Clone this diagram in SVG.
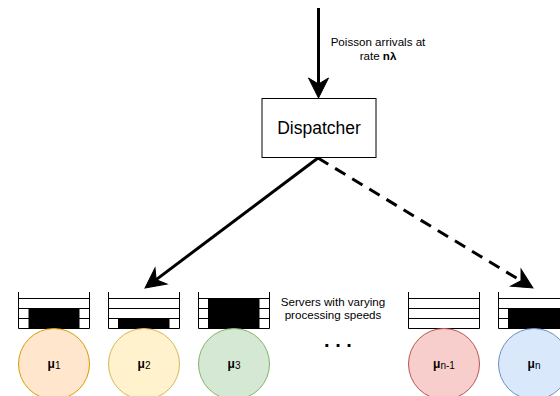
<svg xmlns="http://www.w3.org/2000/svg" width="560" height="396" viewBox="0 0 560 396">
<style>
text{font-family:"Liberation Sans",Arial,Helvetica,sans-serif;fill:#000}
.q{stroke:#000;stroke-width:1;fill:none}
.blk{fill:#000;stroke:#000;stroke-width:1}
.lbl{font-size:11.6px}
.mu{font-size:12px;font-weight:bold}
.sub{font-size:10px;font-weight:normal}
.conn{stroke:#000;stroke-width:3;fill:none}
</style>
<defs>
<marker id="arr" markerUnits="userSpaceOnUse" orient="auto" refX="0" refY="0" markerWidth="40" markerHeight="40" overflow="visible">
<path d="M14,0 L-6,-10 L0,0 L-6,10 Z" fill="#000" stroke="#000" stroke-width="1" stroke-linejoin="miter"/>
</marker>
</defs>
<rect width="560" height="396" fill="#fff"/>
<g id="connectors">
<line class="conn" x1="318.5" y1="8" x2="318.5" y2="84" marker-end="url(#arr)"/>
<line class="conn" x1="318" y1="158" x2="156.2" y2="279.6" marker-end="url(#arr)"/>
<line class="conn" x1="318" y1="158" x2="521" y2="280.8" stroke-dasharray="12 8" marker-end="url(#arr)"/>
</g>
<g id="arrival-label">
<text class="lbl" x="378" y="46" text-anchor="middle">Poisson arrivals at</text>
<text class="lbl" x="378" y="60" text-anchor="middle">rate <tspan font-weight="bold">nλ</tspan></text>
</g>
<g id="dispatcher">
<rect x="262" y="98.5" width="114" height="59" fill="#fff" stroke="#000" stroke-width="1"/>
<text x="319" y="134" font-size="17.5" text-anchor="middle">Dispatcher</text>
</g>
<g id="queue1">
<rect class="blk" x="29" y="308.5" width="50" height="20"/>
<path class="q" d="M18.5,292V328.5M89.5,292V328.5M18.5,298.5H89.5M18.5,308.5H89.5M18.5,318.5H89.5M18.5,328.5H89.5"/>
</g>
<g id="server1">
<circle cx="54" cy="364" r="35.5" fill="#ffe6cc" stroke="#d79b00"/>
<text class="mu" x="54" y="368" text-anchor="middle">μ<tspan class="sub" dy="1">1</tspan></text>
</g>
<g id="queue2">
<rect class="blk" x="118.5" y="318.5" width="50.5" height="10"/>
<path class="q" d="M108.5,292V328.5M179.5,292V328.5M108.5,298.5H179.5M108.5,308.5H179.5M108.5,318.5H179.5M108.5,328.5H179.5"/>
</g>
<g id="server2">
<circle cx="144" cy="364" r="35.5" fill="#fff2cc" stroke="#d6b656"/>
<text class="mu" x="144" y="368" text-anchor="middle">μ<tspan class="sub" dy="1">2</tspan></text>
</g>
<g id="queue3">
<rect class="blk" x="208.5" y="298.5" width="50.5" height="30"/>
<path class="q" d="M198.5,292V328.5M269.5,292V328.5M198.5,298.5H269.5M198.5,308.5H269.5M198.5,318.5H269.5M198.5,328.5H269.5"/>
</g>
<g id="server3">
<circle cx="234" cy="364" r="35.5" fill="#d5e8d4" stroke="#82b366"/>
<text class="mu" x="234" y="368" text-anchor="middle">μ<tspan class="sub" dy="1">3</tspan></text>
</g>
<g id="servers-label">
<text class="lbl" x="333" y="306" text-anchor="middle">Servers with varying</text>
<text class="lbl" x="333" y="319" text-anchor="middle">processing speeds</text>
<text x="338" y="347" font-size="20" font-weight="bold" text-anchor="middle">. . .</text>
</g>
<g id="queue-n-1">
<path class="q" d="M408.5,292V328.5M479.5,292V328.5M408.5,298.5H479.5M408.5,308.5H479.5M408.5,318.5H479.5M408.5,328.5H479.5"/>
</g>
<g id="server-n-1">
<circle cx="444" cy="364" r="35.5" fill="#f8cecc" stroke="#b85450"/>
<text class="mu" x="444" y="368" text-anchor="middle">μ<tspan class="sub" dy="1">n-1</tspan></text>
</g>
<g id="queue-n">
<rect class="blk" x="508.5" y="308.5" width="60" height="20"/>
<path class="q" d="M498.5,292V328.5M569.5,292V328.5M498.5,298.5H569.5M498.5,308.5H569.5M498.5,318.5H569.5M498.5,328.5H569.5"/>
</g>
<g id="server-n">
<circle cx="534" cy="364" r="35.5" fill="#dae8fc" stroke="#6c8ebf"/>
<text class="mu" x="534" y="368" text-anchor="middle">μ<tspan class="sub" dy="1">n</tspan></text>
</g>
</svg>
